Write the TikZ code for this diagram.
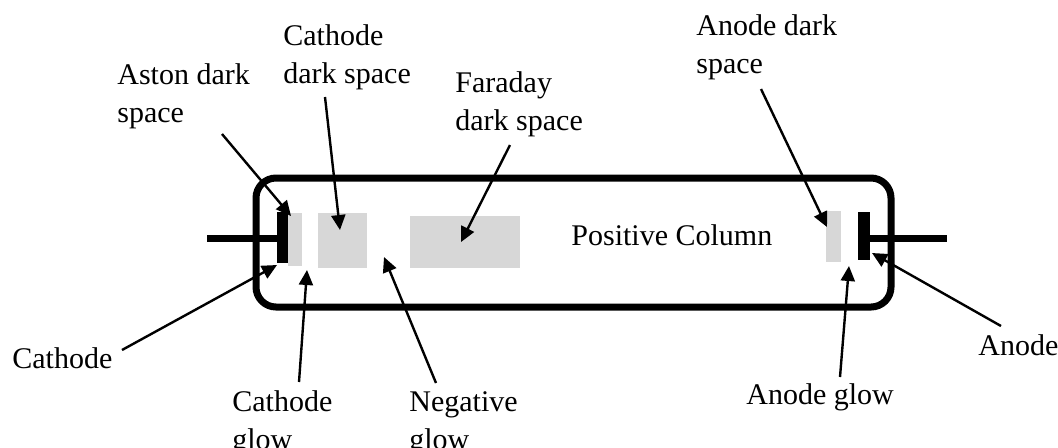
\documentclass[tikz,border=0pt]{standalone}
\usepackage{fontspec}
\setmainfont{Liberation Serif}
\usetikzlibrary{arrows.meta}
\definecolor{regiongray}{RGB}{215,215,215}
\begin{document}
\begin{tikzpicture}[x=0.5pt,y=-0.5pt,
  lbl/.style={font=\fontsize{15}{19}\selectfont, inner sep=0pt, anchor=base west, align=left},
  ptr/.style={line width=1.2pt, -{Triangle[length=7.5pt,width=7pt]}},
  tube/.style={line width=3.5pt, rounded corners=10pt},
  region/.style={fill=regiongray, draw=none},
  electrode/.style={fill=black, draw=none},
  lead/.style={line width=3.5pt}]
\useasboundingbox (0,0) rectangle (1058,447);

% glow-discharge tube
\draw[tube] (256,178) rectangle (891,307);

% regions
\fill[region] (288,213) rectangle (302,266);
\fill[region] (318,213) rectangle (367,268);
\fill[region] (410,216) rectangle (520,268);
\fill[region] (826,211) rectangle (841,262);

% electrodes and leads
\fill[electrode] (277,212) rectangle (288,263);
\fill[electrode] (858,212) rectangle (870,260);
\coordinate (cl1) at (207,238); \coordinate (cl2) at (277,238);
\coordinate (al1) at (870,238); \coordinate (al2) at (947,238);
\draw[lead] (cl1) -- (cl2);
\draw[lead] (al1) -- (al2);

% labels (base = baseline of the last line)
\node[lbl] (aston) at (117,122) {Aston dark\\space};
\node[lbl] (cds) at (283,83) {Cathode\\dark space};
\node[lbl] (fds) at (455,130) {Faraday\\dark space};
\node[lbl] (ads) at (696,73) {Anode dark\\space};
\node[lbl] (pc) at (571,245) {Positive Column};
\node[lbl] (cath) at (12,368) {Cathode};
\node[lbl] (cg) at (232,449) {Cathode\\glow};
\node[lbl] (ng) at (409,449) {Negative\\glow};
\node[lbl] (ag) at (746,404) {Anode glow};
\node[lbl] (an) at (978,355) {Anode};

% arrow ends
\coordinate (astonT) at (222,134); \coordinate (astonH) at (291,216);
\coordinate (cdsT) at (325,97);    \coordinate (cdsH) at (340,230);
\coordinate (fdsT) at (510,145);   \coordinate (fdsH) at (461,242);
\coordinate (cathT) at (122,350);  \coordinate (cathH) at (277,265);
\coordinate (cgT) at (299,382);    \coordinate (cgH) at (307,270);
\coordinate (ngT) at (436,383);    \coordinate (ngH) at (384,257);
\coordinate (adsT) at (761,89);    \coordinate (adsH) at (827,227);
\coordinate (agT) at (840,377);    \coordinate (agH) at (849,266);
\coordinate (anT) at (1001,326);   \coordinate (anH) at (872,253);

\draw[ptr] (astonT) -- (astonH);
\draw[ptr] (cdsT) -- (cdsH);
\draw[ptr] (fdsT) -- (fdsH);
\draw[ptr] (cathT) -- (cathH);
\draw[ptr] (cgT) -- (cgH);
\draw[ptr] (ngT) -- (ngH);
\draw[ptr] (adsT) -- (adsH);
\draw[ptr] (agT) -- (agH);
\draw[ptr] (anT) -- (anH);
\end{tikzpicture}
\end{document}
